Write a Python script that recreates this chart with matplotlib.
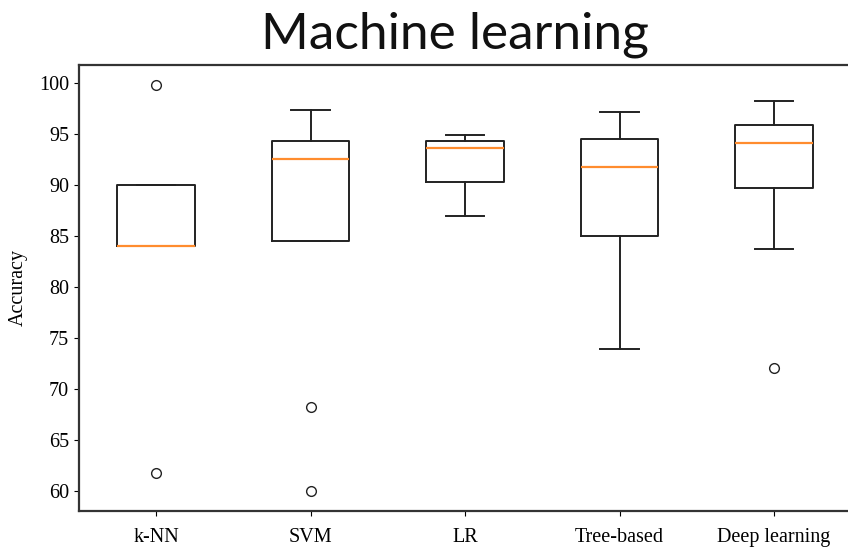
import matplotlib
matplotlib.use('Agg')
import matplotlib.pyplot as plt

# Box statistics
labels = ['k-NN', 'SVM', 'LR', 'Tree-based', 'Deep learning']
whislo = [84.0, 84.56, 87.0, 73.92, 83.74]
q1 = [84.0, 84.56, 90.31, 85.02, 89.75]
med = [84.0, 92.54, 93.66, 91.78, 94.12]
q3 = [90.0, 94.29, 94.29, 94.48, 95.89]
whishi = [90.0, 97.37, 94.94, 97.14, 98.26]
fliers = [[99.8, 61.7], [68.2, 60.0], [], [], [72.05]]


def main():
    stats = []
    for i, name in enumerate(labels):
        stats.append({'label': name, 'whislo': whislo[i], 'q1': q1[i],
                      'med': med[i], 'q3': q3[i], 'whishi': whishi[i],
                      'fliers': fliers[i]})

    fig = plt.figure(figsize=(8.48, 5.5), dpi=100)
    ax = fig.add_axes([78.75 / 848, 39 / 550, 772.5 / 848, 446 / 550])

    line = {'color': '#222222', 'linewidth': 1.4}
    ax.bxp(stats, boxprops=line, whiskerprops=line, capprops=line,
           medianprops={'color': '#ff8c2e', 'linewidth': 1.6},
           flierprops={'marker': 'o', 'markerfacecolor': 'none',
                       'markeredgecolor': '#222222', 'markersize': 7,
                       'markeredgewidth': 1.0})

    for s in ax.spines.values():
        s.set_linewidth(1.6)
        s.set_color('#333333')

    serif = ['Liberation Serif', 'DejaVu Serif']
    ax.set_yticks([60, 65, 70, 75, 80, 85, 90, 95, 100])
    for lab in ax.get_xticklabels() + ax.get_yticklabels():
        lab.set_family(serif)
        lab.set_fontsize(14.5)
    ax.tick_params(axis='x', pad=9)
    ax.set_ylabel('Accuracy', family=serif, fontsize=14.5, labelpad=8)

    # title sits on its baseline just above the frame
    fig.text(0.537, 1 - 48 / 550, 'Machine learning', ha='center',
             va='baseline', family=['Lato', 'DejaVu Sans'], fontsize=37,
             color='#111111')

    fig.savefig('out.png', dpi=100)


if __name__ == '__main__':
    main()
